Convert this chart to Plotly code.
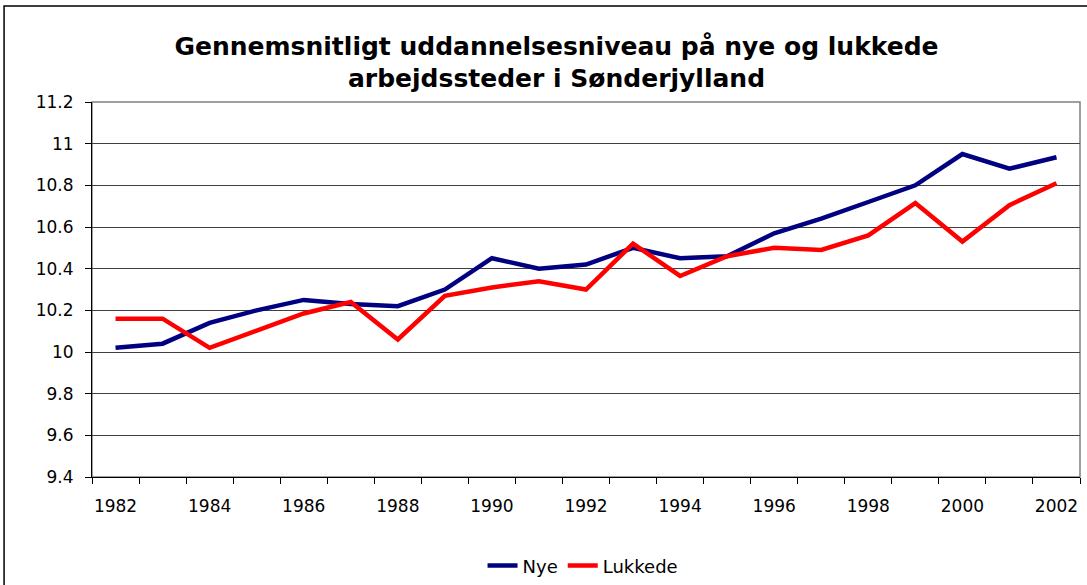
import plotly.graph_objects as go

years = list(range(1982, 2003))
nye = [10.02, 10.04, 10.14, 10.20, 10.25, 10.23, 10.22, 10.30, 10.45, 10.40, 10.42,
       10.50, 10.45, 10.46, 10.57, 10.64, 10.72, 10.80, 10.95, 10.88, 10.935]
lukkede = [10.16, 10.16, 10.02, 10.10, 10.185, 10.24, 10.06, 10.27, 10.31, 10.34, 10.30,
           10.52, 10.365, 10.46, 10.50, 10.49, 10.56, 10.715, 10.53, 10.705, 10.81]
x_labels = [str(y) for y in range(1982, 2003, 2)]
y_ticks = [9.4, 9.6, 9.8, 10, 10.2, 10.4, 10.6, 10.8, 11, 11.2]
y_tick_text = ["9.4", "9.6", "9.8", "10", "10.2", "10.4", "10.6", "10.8", "11", "11.2"]

FONT = "DejaVu Sans, Arial, sans-serif"

fig = go.Figure()
fig.add_trace(go.Scatter(x=years, y=nye, name="Nye", mode="lines",
                         line=dict(color="#000080", width=4.5)))
fig.add_trace(go.Scatter(x=years, y=lukkede, name="Lukkede", mode="lines",
                         line=dict(color="#FF0000", width=4.5)))

fig.update_layout(
    width=1087, height=585,
    margin=dict(l=92, r=7, t=102, b=108, autoexpand=False),
    paper_bgcolor="white", plot_bgcolor="white",
    font=dict(family=FONT, size=17, color="black"),
    title=dict(text="<b>Gennemsnitligt uddannelsesniveau på nye og lukkede<br>arbejdssteder i Sønderjylland</b>",
               x=0.512, xanchor="center", y=0.906, yanchor="middle",
               font=dict(family=FONT, size=25, color="black")),
    showlegend=True,
    legend=dict(orientation="h", x=0.497, xanchor="center", y=-0.237, yanchor="middle",
                font=dict(family=FONT, size=18), tracegroupgap=0, entrywidth=0),
    xaxis=dict(range=[1981.5, 2002.5], tickvals=list(range(1982, 2003, 2)), ticktext=x_labels,
               ticks="", showgrid=False, showline=True, linecolor="black", linewidth=1,
               ticklabelstandoff=14, zeroline=False, automargin=False,
               minor=dict(tick0=1981.5, dtick=1, ticks="outside", ticklen=6,
                          tickcolor="black", showgrid=False)),
    yaxis=dict(range=[9.4, 11.2], tickvals=y_ticks, ticktext=y_tick_text,
               ticks="outside", ticklen=6, tickcolor="black",
               showgrid=True, gridcolor="#404040", gridwidth=1,
               showline=True, linecolor="black", linewidth=1, zeroline=False,
               ticklabelstandoff=8, automargin=False),
    shapes=[
        dict(type="rect", xref="paper", yref="paper", x0=0, x1=1, y0=0, y1=1,
             line=dict(color="#808080", width=1.5), layer="below"),
        dict(type="rect", xref="paper", yref="paper", x0=-0.089, x1=1.03, y0=-0.4, y1=1.256,
             line=dict(color="black", width=1.5), layer="below"),
    ],
)

fig.write_html("out.html", config={"displayModeBar": False},
               post_script="document.body.style.margin='0';")
